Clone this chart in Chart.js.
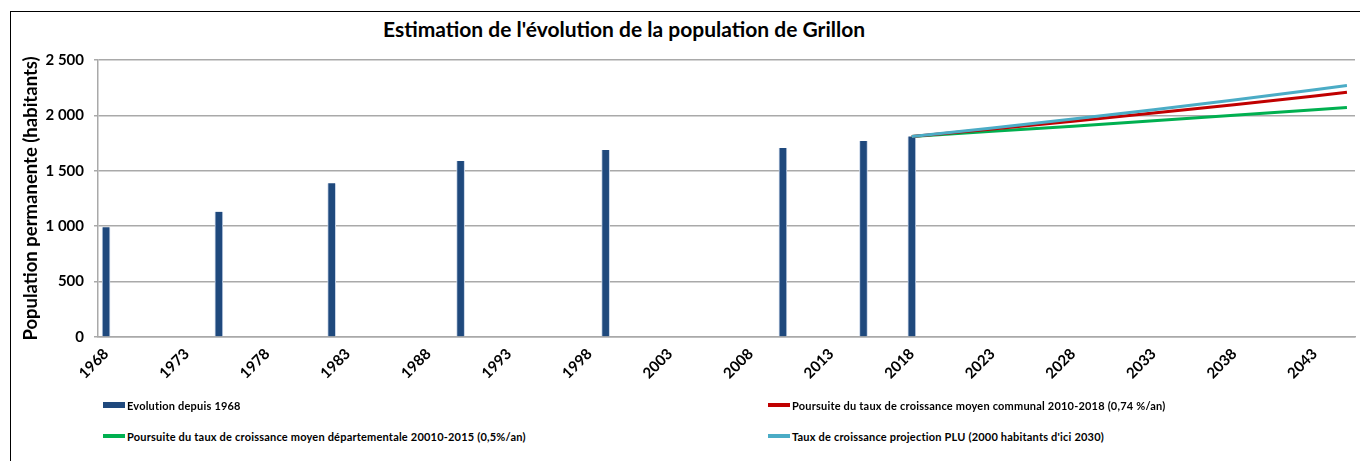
<!DOCTYPE html>
<html lang="fr">
<head>
  <meta charset="UTF-8" />
  <title>Estimation de l'évolution de la population de Grillon</title>
  <script src="https://cdn.jsdelivr.net/npm/chart.js"></script>
  <style>
    body {
      margin: 0;
      background: #fff;
      font-family: Lato, "Open Sans", sans-serif;
    }
    #wrap {
      position: relative;
      width: 1360px;
      height: 461px;
      overflow: hidden;
    }
    #frame {
      position: absolute;
      left: 10px;
      top: 11px;
      width: 1400px;
      height: 500px;
      border: 1px solid #000;
    }
    #title {
      position: absolute;
      left: 383px;
      top: 16px;
      font-weight: bold;
      font-size: 21px;
      color: #000;
      white-space: nowrap;
    }
    #chartBox {
      position: absolute;
      left: 0;
      top: 0;
      width: 1360px;
      height: 400px;
    }
    .legend-item {
      position: absolute;
      display: flex;
      align-items: center;
      font-size: 11px;
      letter-spacing: 0.2px;
      font-weight: bold;
      color: #000;
      white-space: nowrap;
    }
    .legend-item span.sym {
      display: inline-block;
      width: 22px;
      margin-right: 2px;
    }
  </style>
</head>
<body>
  <div id="wrap">
    <div id="frame"></div>
    <div id="title">Estimation de l'évolution de la population de Grillon</div>
    <div id="chartBox"><canvas id="popChart"></canvas></div>
    <div id="legend"></div>
  </div>

  <script>
    // recensements
    const years = [1968, 1975, 1982, 1990, 1999, 2010, 2015, 2018];
    const population = [990, 1130, 1387, 1588, 1688, 1706, 1769, 1810];

    // projections
    const projYears = [2018, 2023, 2028, 2033, 2038, 2043, 2045];
    const projCommunal = [1810, 1878, 1948, 2021, 2097, 2176, 2208];
    const projDepart = [1810, 1856, 1903, 1951, 2001, 2052, 2072];
    const projPLU = [1810, 1887, 1968, 2052, 2140, 2232, 2269];

    const xTicks = [1968, 1973, 1978, 1983, 1988, 1993, 1998, 2003, 2008, 2013, 2018, 2023, 2028, 2033, 2038, 2043];
    const yTicks = [0, 500, 1000, 1500, 2000, 2500];

    const labels = {
      evol: "Evolution depuis 1968",
      communal: "Poursuite du taux de croissance moyen communal 2010-2018 (0,74 %/an)",
      depart: "Poursuite du taux de croissance moyen départementale 20010-2015 (0,5%/an)",
      plu: "Taux de croissance projection PLU (2000 habitants d'ici 2030)"
    };

    const toXY = (xs, ys) => xs.map((x, i) => ({ x: x, y: ys[i] }));
    const gridColor = "#a9a9a9";

    const lineDs = (label, data, color, order) => ({
      type: "line",
      label: label,
      data: data,
      borderColor: color,
      backgroundColor: color,
      borderWidth: 3,
      pointRadius: 0,
      tension: 0,
      order: order
    });

    const ctx = document.getElementById("popChart").getContext("2d");
    const chart = new Chart(ctx, {
      type: "bar",
      data: {
        datasets: [
          {
            label: labels.evol,
            data: toXY(years, population),
            backgroundColor: "#1f497d",
            borderColor: "#c6d3e6",
            borderWidth: { left: 1, right: 1, top: 0, bottom: 0 },
            barThickness: 8,
            order: 10
          },
          lineDs(labels.communal, toXY(projYears, projCommunal), "#c00000", 2),
          lineDs(labels.depart, toXY(projYears, projDepart), "#00b050", 3),
          lineDs(labels.plu, toXY(projYears, projPLU), "#4bacc6", 1)
        ]
      },
      options: {
        responsive: true,
        maintainAspectRatio: false,
        animation: false,
        layout: { autoPadding: false, padding: { top: 60, right: 5, left: 0, bottom: 0 } },
        plugins: {
          legend: { display: false },
          tooltip: { enabled: false }
        },
        scales: {
          x: {
            type: "linear",
            offset: false,
            min: 1967.5,
            max: 2045.5,
            afterBuildTicks: scale => { scale.ticks = xTicks.map(v => ({ value: v })); },
            afterFit: scale => { scale.height = 63; },
            grid: { display: false, drawTicks: false },
            border: { display: true, color: gridColor, width: 1.5 },
            ticks: {
              autoSkip: false,
              maxRotation: 45,
              minRotation: 45,
              padding: 8,
              color: "#000",
              font: { family: "Lato", size: 15, weight: "bold" },
              callback: v => String(v)
            }
          },
          y: {
            min: 0,
            max: 2500,
            afterBuildTicks: scale => { scale.ticks = yTicks.map(v => ({ value: v })); },
            afterFit: scale => { scale.width = 98; },
            grid: { color: gridColor, lineWidth: 1.5, tickLength: 4, tickColor: gridColor },
            border: { display: true, color: gridColor, width: 1.5 },
            ticks: {
              padding: 10,
              color: "#000",
              font: { family: "Lato", size: 15, weight: "bold" },
              callback: v => String(v).replace(/\B(?=(\d{3})+(?!\d))/g, " ")
            },
            title: {
              display: true,
              text: "Population permanente (habitants)",
              color: "#000",
              font: { family: "Lato", size: 18.5, weight: "bold" },
              padding: { top: 20, bottom: 0 }
            }
          }
        }
      }
    });

    // légende sur deux colonnes, comme dans Excel
    const legendPos = [
      { left: 103, top: 398, h: 6 },
      { left: 768, top: 398, h: 4 },
      { left: 103, top: 429, h: 4 },
      { left: 768, top: 429, h: 4 }
    ];
    const legendEl = document.getElementById("legend");
    chart.data.datasets.forEach((ds, i) => {
      const p = legendPos[i];
      const item = document.createElement("div");
      item.className = "legend-item";
      item.style.left = p.left + "px";
      item.style.top = p.top + "px";
      item.style.height = "14px";
      const sym = document.createElement("span");
      sym.className = "sym";
      sym.style.height = p.h + "px";
      sym.style.background = ds.type === "line" ? ds.borderColor : ds.backgroundColor;
      const txt = document.createElement("span");
      txt.textContent = ds.label;
      item.appendChild(sym);
      item.appendChild(txt);
      legendEl.appendChild(item);
    });
  </script>
</body>
</html>
